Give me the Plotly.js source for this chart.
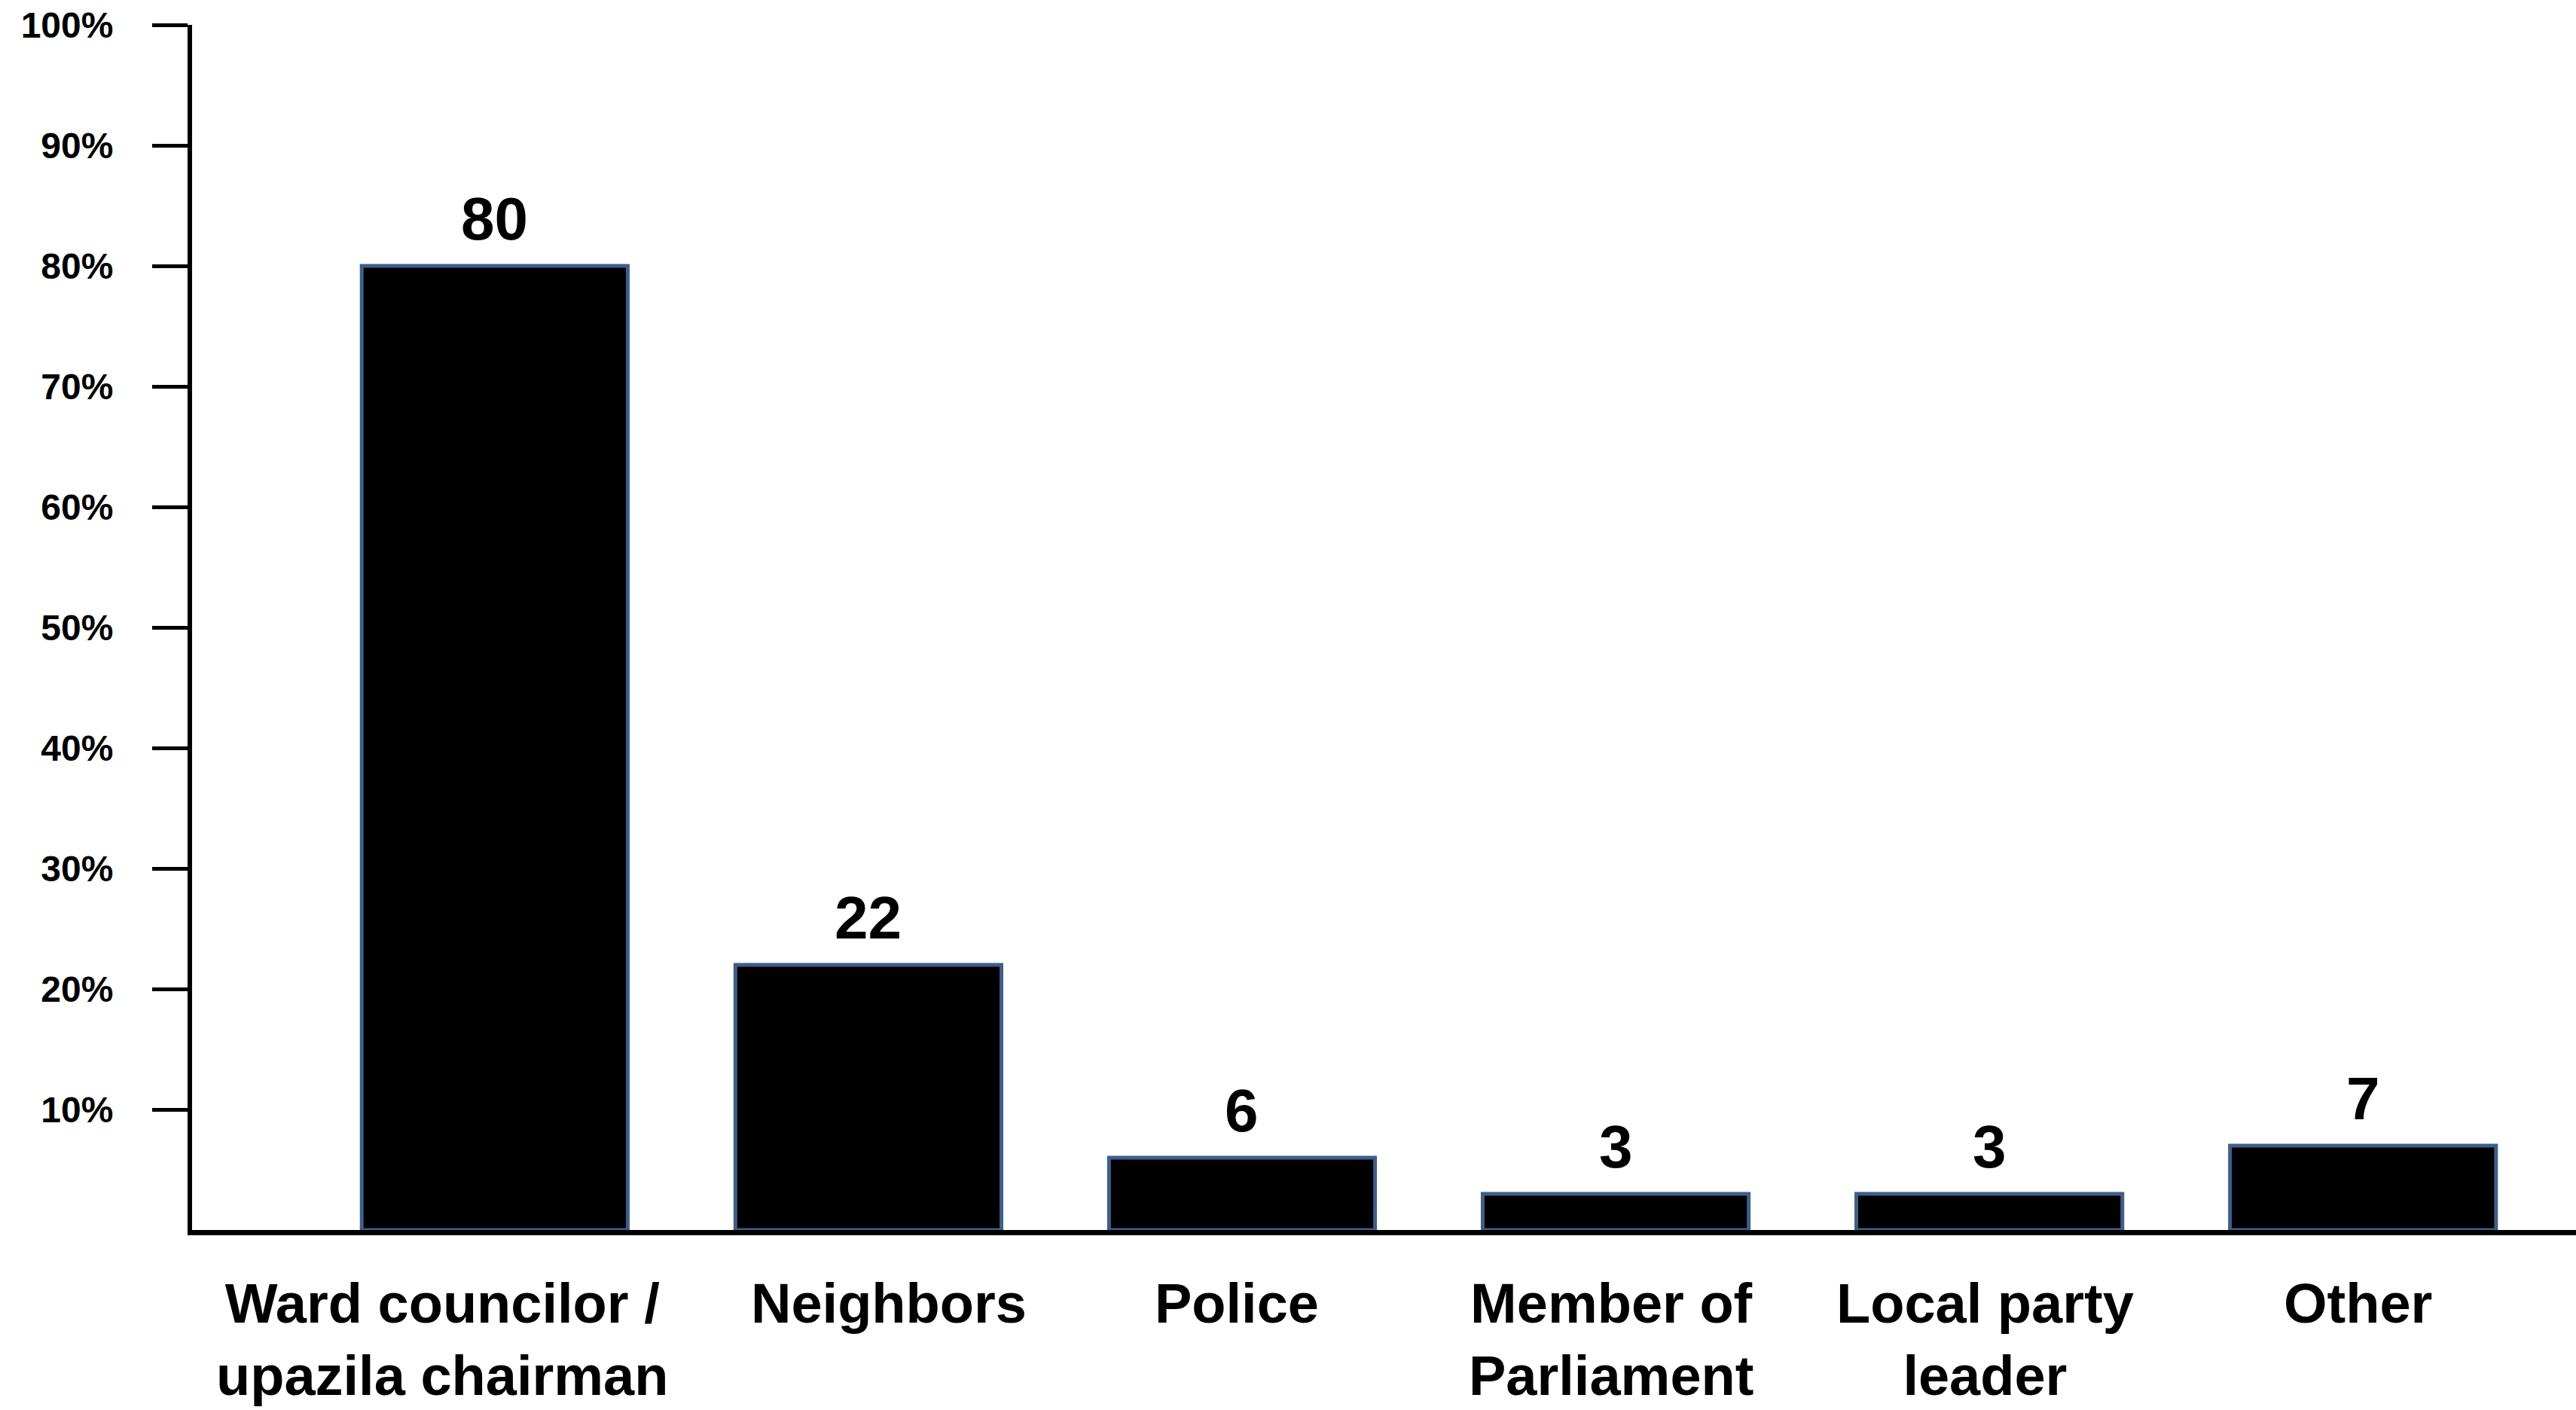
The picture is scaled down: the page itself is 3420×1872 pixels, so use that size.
<!DOCTYPE html>
<html>
<head>
<meta charset="utf-8">
<script src="https://cdn.plot.ly/plotly-3.0.1.min.js"></script>
<style>html,body{margin:0;padding:0;background:#fff;}#chart{width:3420px;height:1872px;}</style>
</head>
<body>
<div id="chart"></div>
<script>
const categories = ["Ward councilor /<br>upazila chairman", "Neighbors", "Police", "Member of<br>Parliament", "Local party<br>leader", "Other"];
const values = [80, 22, 6, 3, 3, 7];
const yTickVals = [10, 20, 30, 40, 50, 60, 70, 80, 90, 100];
const yTickText = ["10%", "20%", "30%", "40%", "50%", "60%", "70%", "80%", "90%", "100%"];

// layout only: horizontal nudges (px) of the category labels, as placed in the original
const labelNudge = [-70, 27, -7, -6, -6, -7];

const FONT = "Liberation Sans, Arial, sans-serif";

const trace = {
  type: "bar",
  x: categories,
  y: values,
  marker: { color: "#000000", line: { color: "#3E5F8A", width: 5 } },
  hoverinfo: "none"
};

const valueLabels = categories.map((c, i) => ({
  x: c, y: values[i], xref: "x", yref: "y",
  text: String(values[i]), showarrow: false,
  yanchor: "bottom", yshift: 16,
  font: { family: FONT, size: 80, color: "#000", weight: "bold" }
}));

const categoryLabels = categories.map((c, i) => ({
  x: c, y: 0, xref: "x", yref: "paper",
  text: c, showarrow: false, align: "center",
  xanchor: "center", yanchor: "top", yshift: -54, xshift: labelNudge[i],
  font: { family: FONT, size: 74, color: "#000", weight: "bold" }
}));

const layout = {
  width: 3420, height: 1872,
  margin: { l: 255, r: 0, t: 33, b: 239, autoexpand: false },
  paper_bgcolor: "#ffffff", plot_bgcolor: "#ffffff",
  showlegend: false,
  bargap: 0.288,
  font: { family: FONT, color: "#000" },
  xaxis: {
    type: "category",
    range: [-0.81, 5.57],
    showline: true, linecolor: "#000", linewidth: 7,
    showgrid: false, zeroline: false, ticks: "",
    showticklabels: false
  },
  yaxis: {
    range: [0, 100],
    showline: true, linecolor: "#000", linewidth: 6,
    showgrid: false, zeroline: false,
    ticks: "outside", ticklen: 47, tickwidth: 5, tickcolor: "#000",
    tickvals: yTickVals, ticktext: yTickText,
    tickfont: { family: FONT, size: 48, color: "#000", weight: "bold" },
    ticklabelstandoff: 42
  },
  annotations: valueLabels.concat(categoryLabels)
};

Plotly.newPlot("chart", [trace], layout, { staticPlot: true, displayModeBar: false });
</script>
</body>
</html>
